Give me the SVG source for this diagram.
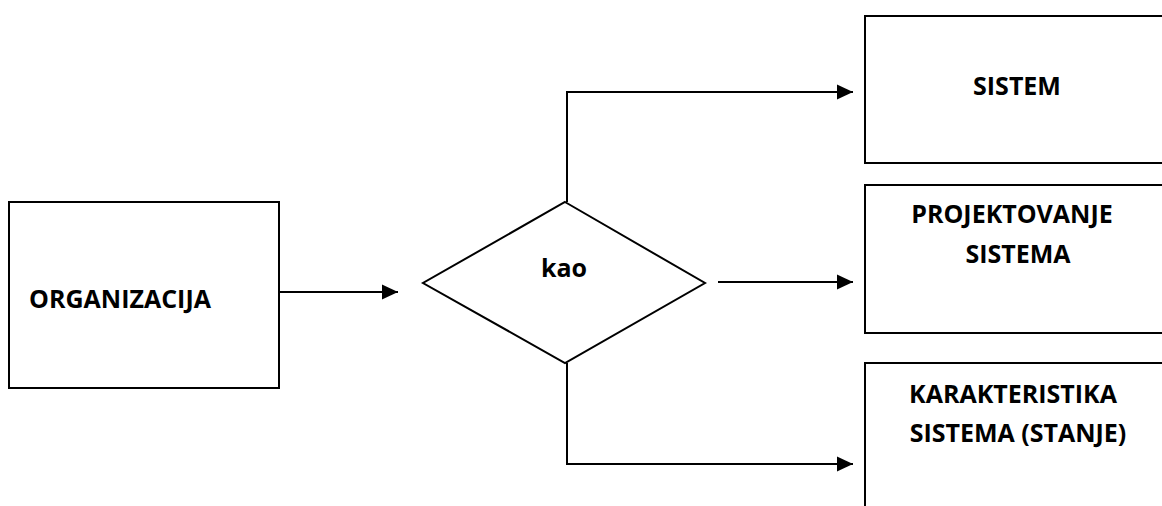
<svg xmlns="http://www.w3.org/2000/svg" width="1162" height="506" viewBox="0 0 1162 506">
  <style>
    .box { fill: #ffffff; stroke: #000000; stroke-width: 2; }
    .lbl { font-family: "Open Sans", "Liberation Sans", sans-serif; font-weight: bold; font-size: 25px; fill: #000000; text-anchor: middle; }
    .conn { fill: none; stroke: #000000; stroke-width: 2; }
  </style>
  <defs>
    <marker id="arrow" markerUnits="userSpaceOnUse" markerWidth="16" markerHeight="16" refX="16" refY="8" orient="auto">
      <path d="M0,0.5 L16,8 L0,15.5 Z" fill="#000000"/>
    </marker>
  </defs>
  <rect width="1162" height="506" fill="#ffffff"/>

  <g id="node-organizacija">
    <rect class="box" x="9" y="202" width="270" height="186"/>
    <text class="lbl" x="120" y="308">ORGANIZACIJA</text>
  </g>

  <g id="node-kao">
    <polygon class="box" points="565,202 705,283 565,363 423,283"/>
    <text class="lbl" x="564" y="277">kao</text>
  </g>

  <g id="node-sistem">
    <path class="box" d="M1170,16 H865 V163 H1170"/>
    <text class="lbl" x="1017" y="95">SISTEM</text>
  </g>

  <g id="node-projektovanje">
    <path class="box" d="M1170,185 H865 V333 H1170"/>
    <text class="lbl" x="1012" y="223">PROJEKTOVANJE</text>
    <text class="lbl" x="1018" y="263">SISTEMA</text>
  </g>

  <g id="node-karakteristika">
    <path class="box" d="M1170,363 H865 V510"/>
    <text class="lbl" x="1013" y="403">KARAKTERISTIKA</text>
    <text class="lbl" x="1018" y="442">SISTEMA (STANJE)</text>
  </g>

  <g id="connectors">
    <line class="conn" x1="279" y1="292" x2="398" y2="292" marker-end="url(#arrow)"/>
    <line class="conn" x1="718" y1="282" x2="853" y2="282" marker-end="url(#arrow)"/>
    <polyline class="conn" points="567,202 567,92 853,92" marker-end="url(#arrow)"/>
    <polyline class="conn" points="567,363 567,464 853,464" marker-end="url(#arrow)"/>
  </g>
</svg>
